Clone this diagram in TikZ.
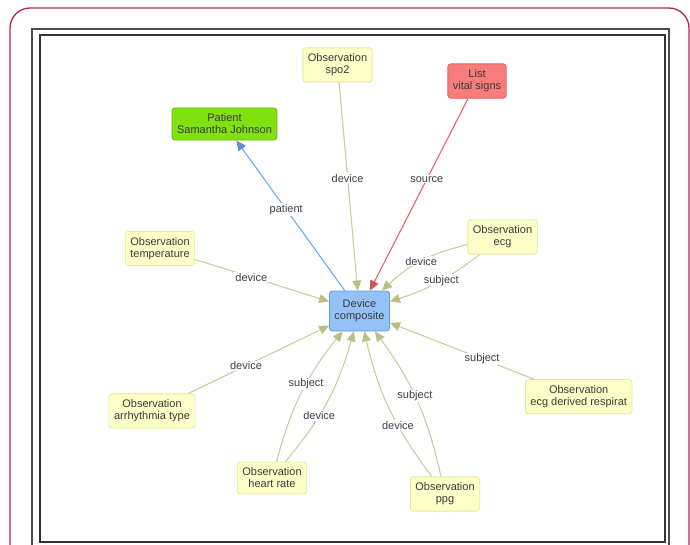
\documentclass[tikz,border=0pt]{standalone}
\usepackage{fontspec}
\setmainfont{Liberation Sans}
\usetikzlibrary{arrows.meta}

\definecolor{framered}{HTML}{A8285A}
\definecolor{obsfill}{HTML}{FFFFC8}
\definecolor{obsline}{HTML}{E6E6A4}
\definecolor{devfill}{HTML}{94C2F6}
\definecolor{devline}{HTML}{5C9AE6}
\definecolor{patfill}{HTML}{80E010}
\definecolor{patline}{HTML}{66C000}
\definecolor{listfill}{HTML}{F87C7C}
\definecolor{listline}{HTML}{E45E66}
\definecolor{reledge}{HTML}{CCCC9C}
\definecolor{reltip}{HTML}{BDBD86}
\definecolor{patedge}{HTML}{6EA8F2}
\definecolor{srcedge}{HTML}{E2646E}
\definecolor{nodetext}{HTML}{3A3A3A}
\definecolor{lbltext}{HTML}{404040}

\begin{document}
\begin{tikzpicture}[x=1pt, y=1pt,
 box/.style={rounded corners=3pt, line width=0.8pt, align=center, inner xsep=5pt, inner ysep=6pt,
  font=\fontsize{11}{12}\selectfont, text=nodetext},
 obs/.style={box, draw=obsline, fill=obsfill},
 rel/.style={draw=reledge, line width=1.1pt, -{Triangle[length=10pt, width=9pt, color=reltip]}},
 lbl/.style={fill=white, inner sep=1pt, font=\fontsize{11}{12}\selectfont, text=lbltext}]

\useasboundingbox (0,0) rectangle (690,-544);

\draw[framered, line width=1.3pt, rounded corners=20pt] (10,-580) rectangle (689,-8);
\draw[gray!60!black, line width=1.6pt] (32,-29) rectangle (669,-580);
\draw[black!80, line width=2.2pt] (40,-35) rectangle (665,-542);

\node[obs] (spo2) at (337.5,-65) {Observation\\spo2};
\node[box, draw=listline, fill=listfill] (vital) at (477,-81) {List\\vital signs};
\node[box, draw=patline, fill=patfill] (patient) at (224.5,-124) {Patient\\Samantha Johnson};
\node[obs] (temp) at (160,-248.5) {Observation\\temperature};
\node[obs] (ecg) at (502.5,-237) {Observation\\ecg};
\node[box, draw=devline, fill=devfill, minimum height=40pt] (device) at (359.5,-311) {Device\\composite};
\node[obs] (resp) at (578.7,-396.7) {Observation\\ecg derived respirat};
\node[obs] (arrhythmia) at (152,-411) {Observation\\arrhythmia type};
\node[obs] (heart) at (272,-478) {Observation\\heart rate};
\node[obs] (ppg) at (445,-494) {Observation\\ppg};

\draw[rel] (spo2) -- node[lbl, pos=0.46] {device} (device);
\draw[rel, draw=srcedge, -{Triangle[length=10pt, width=9pt, color=srcedge!90!black]}] (vital) -- node[lbl, pos=0.42] {source} (device);
\draw[rel, draw=patedge, -{Triangle[length=10pt, width=9pt, color=patedge!85!black]}] (device) -- node[lbl, pos=0.54] {patient} (patient);
\draw[rel] (temp) -- node[lbl, pos=0.42] {device} (device);
\draw[rel] (arrhythmia) -- node[lbl, pos=0.41] {device} (device);
\draw[rel] (resp) -- node[lbl, pos=0.36] {subject} (device);
\draw[rel] (ecg) to[bend right=15] node[lbl, pos=0.5] {device} (device);
\draw[rel] (ecg) to[bend left=10] node[lbl, pos=0.45] {subject} (device);
\draw[rel] (heart) to[bend left=12] node[lbl, pos=0.57] {subject} (device);
\draw[rel] (heart) to[bend right=12] node[lbl, pos=0.375] {device} (device);
\draw[rel] (ppg) to[bend right=12] node[lbl, pos=0.53] {subject} (device);
\draw[rel] (ppg) to[bend left=12] node[lbl, pos=0.37] {device} (device);
\end{tikzpicture}
\end{document}
